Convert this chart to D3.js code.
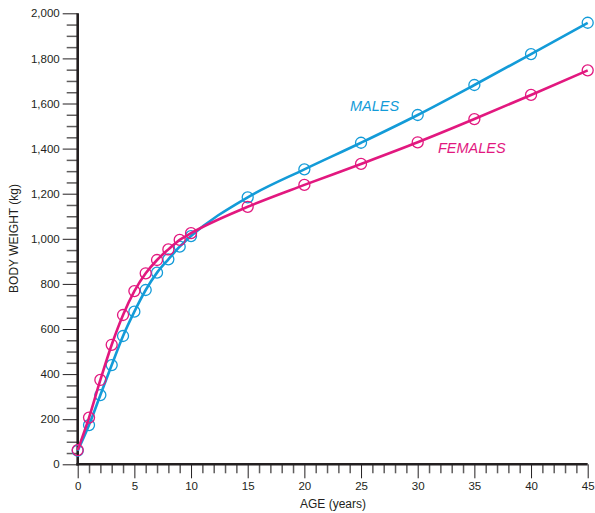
<!DOCTYPE html>
<html><head><meta charset="utf-8">
<script src="https://cdn.jsdelivr.net/npm/d3@7"></script>
<style>body{margin:0;background:#fff}svg{display:block}text{font-family:"Liberation Sans",Arial,sans-serif}</style>
</head><body><svg id="c" width="595" height="513"></svg>
<script>
const ages = [0,1,2,3,4,5,6,7,8,9,10,15,20,25,30,35,40,45];
const males = [60,174,307,440,569,677,773,850,909,965,1012,1184,1308,1426,1549,1682,1819,1958];
const females = [63,207,374,530,662,768,847,906,953,995,1025,1142,1239,1332,1428,1531,1638,1747];
const xTicks = [0,5,10,15,20,25,30,35,40,45];
const yTicks = [0,200,400,600,800,1000,1200,1400,1600,1800,2000];
const seriesNames = ["MALES","FEMALES"];
const colors = ["#139bd8","#e2187f"];

const svg = d3.select("#c");
const x = d3.scaleLinear().domain([0,45]).range([77.7,587.7]);
const y = d3.scaleLinear().domain([0,2000]).range([464.3,13.3]);
const axisColor = "#231f20";

// minor y ticks
svg.append("g").attr("transform","translate(77.7,0)")
  .call(d3.axisLeft(y).tickValues(d3.range(50,2000,50).filter(v=>v%200!==0)).tickSize(11).tickFormat(""))
  .call(g=>g.select(".domain").remove())
  .call(g=>g.selectAll("line").attr("stroke","#5f5d5d").attr("stroke-width",1.5));
// major y ticks
svg.append("g").attr("transform","translate(77.7,0)")
  .call(d3.axisLeft(y).tickValues(yTicks).tickSize(15).tickPadding(3).tickFormat(d3.format(",")))
  .call(g=>g.select(".domain").remove())
  .call(g=>g.selectAll("line").attr("stroke",axisColor).attr("stroke-width",1))
  .call(g=>g.selectAll("text").attr("font-size","11.5px").attr("fill","#231f20"));
// minor x ticks
svg.append("g").attr("transform","translate(0,464.3)")
  .call(d3.axisBottom(x).tickValues(d3.range(1,45).filter(v=>v%5!==0)).tickSize(9).tickFormat(""))
  .call(g=>g.select(".domain").remove())
  .call(g=>g.selectAll("line").attr("stroke","#5f5d5d").attr("stroke-width",1.5));
// major x ticks
svg.append("g").attr("transform","translate(0,464.3)")
  .call(d3.axisBottom(x).tickValues(xTicks).tickSize(14).tickPadding(4))
  .call(g=>g.select(".domain").remove())
  .call(g=>g.selectAll("line").attr("stroke",axisColor).attr("stroke-width",1))
  .call(g=>g.selectAll("text").attr("font-size","11.5px").attr("fill","#231f20"));
// axis lines
svg.append("line").attr("x1",x(0)).attr("x2",x(0)).attr("y1",y(2000)).attr("y2",y(0)+1.3)
  .attr("stroke",axisColor).attr("stroke-width",2.6);
svg.append("line").attr("x1",x(0)-1.3).attr("x2",x(45)).attr("y1",y(0)).attr("y2",y(0))
  .attr("stroke",axisColor).attr("stroke-width",2.6);

// titles
svg.append("text").attr("x",333).attr("y",508).attr("text-anchor","middle")
  .attr("font-size","12px").attr("fill","#231f20").text("AGE (years)");
svg.append("text").attr("transform","translate(18,238.5) rotate(-90)").attr("text-anchor","middle")
  .attr("font-size","12px").attr("fill","#231f20").text("BODY WEIGHT (kg)");

const data = [males, females];
const line = d3.line().x((d,i)=>x(ages[i])).y(d=>y(d)).curve(d3.curveMonotoneX);
data.forEach((vals,k)=>{
  svg.append("path").attr("d",line(vals)).attr("fill","none")
    .attr("stroke",colors[k]).attr("stroke-width",2.6);
  svg.append("g").selectAll("circle").data(vals).join("circle")
    .attr("cx",(d,i)=>x(ages[i])).attr("cy",d=>y(d)).attr("r",5.5)
    .attr("fill","none").attr("stroke",colors[k]).attr("stroke-width",1.3);
});
svg.append("text").attr("x",350).attr("y",111).attr("font-size","14.5px").attr("font-style","italic")
  .attr("fill",colors[0]).text(seriesNames[0]);
svg.append("text").attr("x",438).attr("y",153).attr("font-size","14.5px").attr("font-style","italic")
  .attr("fill",colors[1]).text(seriesNames[1]);
</script></body></html>
